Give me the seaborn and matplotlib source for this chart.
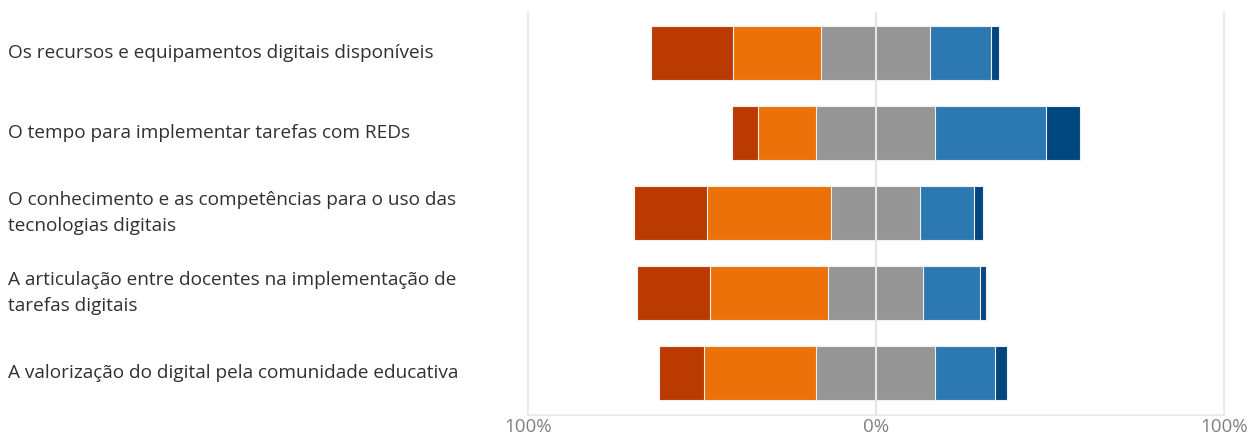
import matplotlib
matplotlib.use("Agg")
import numpy as np
import pandas as pd
import matplotlib.pyplot as plt
import seaborn as sns
from matplotlib.transforms import blended_transform_factory

# Respostas (%) por item, escala de 5 níveis
items = [
    "Os recursos e equipamentos digitais disponíveis",
    "O tempo para implementar tarefas com REDs",
    "O conhecimento e as competências para o uso das\ntecnologias digitais",
    "A articulação entre docentes na implementação de\ntarefas digitais",
    "A valorização do digital pela comunidade educativa",
]
muito_neg = [23.6, 7.5, 21.0, 21.0, 12.9]
neg = [25.3, 16.7, 35.6, 33.9, 32.2]
neutro = [31.3, 34.2, 25.6, 27.3, 34.2]
pos = [17.5, 31.9, 15.5, 16.4, 17.2]
muito_pos = [2.3, 9.7, 2.6, 1.7, 3.4]

df = pd.DataFrame({"item": items, "mn": muito_neg, "n": neg, "ne": neutro,
                   "p": pos, "mp": muito_pos})
half = df["ne"] / 2
layers = [
    (-(half + df["n"] + df["mn"]), "#BA3A02"),
    (-(half + df["n"]), "#EC7108"),
    (-half, "#959595"),
    (half + df["p"] + df["mp"], "#00467F"),
    (half + df["p"], "#2C78B0"),
    (half, "#959595"),
]

sns.set_theme(style="white")
plt.rcParams["font.family"] = ["Open Sans", "DejaVu Sans"]

fig, ax = plt.subplots(figsize=(12.54, 4.37), dpi=100)
fig.subplots_adjust(left=0.421, right=0.976, top=0.973, bottom=0.05)

for vals, col in layers:
    sns.barplot(x=vals, y=df["item"], orient="h", color=col, width=0.675,
                saturation=1, edgecolor="#f0f0f0", linewidth=0.8, ax=ax)

ax.axvline(0, color="#e4e4e4", lw=1.5, zorder=5)
ax.set_xlim(-100, 100)
ax.set_ylim(4.53, -0.52)
ax.set_xticks([-100, 0, 100])
ax.set_xticklabels(["100%", "0%", "100%"], color="#808080", fontsize=13.5)
ax.tick_params(axis="x", length=0, pad=2)
ax.set_yticks([])
ax.set_xlabel("")
ax.set_ylabel("")
for side in ["left", "right", "bottom"]:
    ax.spines[side].set_color("#e8e8e8")
    ax.spines[side].set_linewidth(1.2)
ax.spines["top"].set_visible(False)

trans = blended_transform_factory(fig.transFigure, ax.transData)
for i, lab in enumerate(items):
    ax.text(0.006, i, lab, transform=trans, ha="left", va="center",
            fontsize=13.7, color="#303030", linespacing=1.62)

fig.savefig("out.png", dpi=100)
